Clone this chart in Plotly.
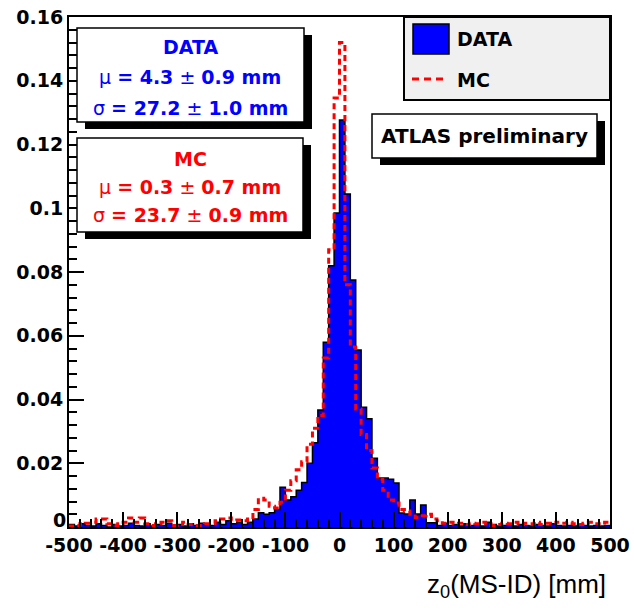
import plotly.graph_objects as go

# ---------------- data (bin left edges, 10 mm bins) ----------------
bin_left = list(range(-500, 500, 10))
x_max = 500

data_vals = [
    # -500 .. -410
    0.0008, 0.0003, 0.0010, 0.0005, 0.0003, 0.0010, 0.0005, 0.0000, 0.0008, 0.0003,
    # -400 .. -310
    0.0005, 0.0012, 0.0005, 0.0003, 0.0010, 0.0003, 0.0008, 0.0005, 0.0012, 0.0005,
    # -300 .. -210
    0.0008, 0.0003, 0.0010, 0.0005, 0.0012, 0.0008, 0.0005, 0.0015, 0.0008, 0.0020,
    # -200 .. -110
    0.0010, 0.0015, 0.0008, 0.0015, 0.0025, 0.0045, 0.0040, 0.0045, 0.0055, 0.0125,
    # -100 .. -10
    0.0085, 0.0095, 0.0115, 0.0140, 0.0200, 0.0264, 0.0367, 0.0580, 0.0820, 0.0985,
    # 0 .. 90
    0.1277, 0.1045, 0.0775, 0.0555, 0.0376, 0.0340, 0.0216, 0.0154, 0.0154, 0.0150,
    # 100 .. 190
    0.0138, 0.0044, 0.0041, 0.0085, 0.0041, 0.0069, 0.0013, 0.0013, 0.0005, 0.0012,
    # 200 .. 290
    0.0005, 0.0008, 0.0003, 0.0010, 0.0005, 0.0008, 0.0003, 0.0015, 0.0008, 0.0003,
    # 300 .. 390
    0.0005, 0.0010, 0.0003, 0.0008, 0.0005, 0.0003, 0.0008, 0.0005, 0.0003, 0.0010,
    # 400 .. 490
    0.0005, 0.0003, 0.0005, 0.0003, 0.0008, 0.0005, 0.0003, 0.0005, 0.0003, 0.0005,
]

mc_vals = [
    # -500 .. -410
    0.0003, 0.0005, 0.0010, 0.0012, 0.0015, 0.0025, 0.0025, 0.0010, 0.0005, 0.0010,
    # -400 .. -310
    0.0015, 0.0028, 0.0015, 0.0028, 0.0010, 0.0005, 0.0010, 0.0015, 0.0020, 0.0005,
    # -300 .. -210
    0.0008, 0.0015, 0.0008, 0.0005, 0.0005, 0.0010, 0.0010, 0.0020, 0.0025, 0.0028,
    # -200 .. -110
    0.0020, 0.0022, 0.0020, 0.0030, 0.0055, 0.0090, 0.0085, 0.0065, 0.0060, 0.0078,
    # -100 .. -10
    0.0115, 0.0145, 0.0180, 0.0205, 0.0260, 0.0310, 0.0350, 0.0530, 0.0870, 0.1346,
    # 0 .. 90
    0.1520, 0.0760, 0.0565, 0.0370, 0.0290, 0.0240, 0.0185, 0.0150, 0.0115, 0.0085,
    # 100 .. 190
    0.0075, 0.0055, 0.0050, 0.0040, 0.0030, 0.0035, 0.0040, 0.0025, 0.0020, 0.0012,
    # 200 .. 290
    0.0015, 0.0010, 0.0012, 0.0008, 0.0012, 0.0010, 0.0015, 0.0010, 0.0005, 0.0008,
    # 300 .. 390
    0.0012, 0.0010, 0.0015, 0.0008, 0.0012, 0.0010, 0.0015, 0.0008, 0.0012, 0.0010,
    # 400 .. 490
    0.0015, 0.0012, 0.0015, 0.0010, 0.0008, 0.0012, 0.0015, 0.0010, 0.0008, 0.0015,
]

x_ticks = list(range(-500, 501, 100))
x_tick_labels = [str(v) for v in x_ticks]
y_ticks = [0, 0.02, 0.04, 0.06, 0.08, 0.1, 0.12, 0.14, 0.16]
# the "0" label is drawn slightly raised (as in the original) by an annotation below
y_tick_labels = ["", "0.02", "0.04", "0.06", "0.08", "0.1", "0.12", "0.14", "0.16"]

assert len(data_vals) == len(bin_left) == len(mc_vals)

# ---------------- figure geometry ----------------
W, H = 634, 610
L, R, T, B = 69, 24, 17, 83
PW, PH = W - L - R, H - T - B
BLUE = "#0000ff"
RED = "#ff0000"
FONT = "DejaVu Sans"


def px(xp):
    return (xp - L) / PW


def py(yp):
    return (T + PH - yp) / PH


def step_xy(vals, close=True):
    xs = [bin_left[0]] + bin_left + [x_max]
    ys = [0] + list(vals) + [vals[-1]]
    if close:
        xs = xs + [x_max]
        ys = ys + [0]
    return xs, ys


fig = go.Figure()

dx, dy = step_xy(data_vals)
fig.add_trace(go.Scatter(
    x=dx, y=dy, mode="lines", name="DATA",
    line=dict(color="black", width=1.5, shape="hv"),
    fill="tozeroy", fillcolor=BLUE, showlegend=False,
))

mx, my = step_xy(mc_vals, close=False)
fig.add_trace(go.Scatter(
    x=mx, y=my, mode="lines", name="MC",
    line=dict(color=RED, width=3, shape="hv", dash="6px,4px"),
    showlegend=False,
))

shapes = []
annotations = []


def box(x0, y0, x1, y1, fill="white", shadow=True, lw=1.5):
    if shadow:
        shapes.append(dict(type="rect", xref="paper", yref="paper", layer="above",
                           x0=px(x0 + 8), x1=px(x1 + 8), y0=py(y0 + 7), y1=py(y1 + 7),
                           fillcolor="black", line=dict(width=0)))
    shapes.append(dict(type="rect", xref="paper", yref="paper", layer="above",
                       x0=px(x0), x1=px(x1), y0=py(y0), y1=py(y1),
                       fillcolor=fill, line=dict(color="black", width=lw)))


def text(s, xp, yp, color="black", size=19, anchor="center", weight="normal", family=FONT):
    annotations.append(dict(text=s, xref="paper", yref="paper", x=px(xp), y=py(yp),
                            xanchor=anchor, yanchor="middle", showarrow=False,
                            font=dict(family=family, size=size, color=color, weight=weight)))


# DATA stat box
box(77, 28, 304, 122)
text("<b>DATA</b>", 190, 47, BLUE)
text("μ <b>= 4.3</b> ± <b>0.9 mm</b>", 190, 77, BLUE)
text("σ <b>= 27.2</b> ± <b>1.0 mm</b>", 190, 108, BLUE)

# MC stat box
box(77, 138, 303, 232)
text("<b>MC</b>", 190, 159, RED)
text("μ <b>= 0.3</b> ± <b>0.7 mm</b>", 190, 187, RED)
text("σ <b>= 23.7</b> ± <b>0.9 mm</b>", 190, 215, RED)

# Legend box
box(404, 17, 610, 100, fill="#f0f0f0", shadow=False, lw=2)
shapes.append(dict(type="rect", xref="paper", yref="paper", layer="above",
                   x0=px(413), x1=px(449), y0=py(24), y1=py(54),
                   fillcolor=BLUE, line=dict(color="black", width=1.5)))
shapes.append(dict(type="line", xref="paper", yref="paper", layer="above",
                   x0=px(412), x1=px(443), y0=py(79), y1=py(79),
                   line=dict(color=RED, width=3, dash="7px,5px")))
text("<b>DATA</b>", 455, 39, anchor="left")
text("<b>MC</b>", 455, 80, anchor="left")

# ATLAS preliminary
box(372, 114, 597, 158)
text("<b>ATLAS preliminary</b>", 484, 136, size=20)

# raised "0" label of the y axis
text("<b>0</b>", 68, 520, anchor="right")

# x-axis title
annotations.append(dict(text="z<sub>0</sub>(MS-ID) [mm]", xref="paper", yref="paper",
                        x=px(608), y=py(585), xanchor="right", yanchor="middle",
                        showarrow=False,
                        font=dict(family="Liberation Sans", size=26, color="black")))

fig.update_layout(
    width=W, height=H,
    margin=dict(l=L, r=R, t=T, b=B, pad=0, autoexpand=False),
    paper_bgcolor="white", plot_bgcolor="white",
    shapes=shapes, annotations=annotations,
    showlegend=False,
)

fig.update_xaxes(
    range=[-500, 500], tickvals=x_ticks, ticktext=x_tick_labels, automargin=False,
    showgrid=False, zeroline=False,
    showline=True, linecolor="black", linewidth=2, mirror=True,
    ticks="inside", ticklen=15, tickwidth=1.5, tickcolor="black",
    minor=dict(ticks="inside", dtick=20, ticklen=8, tickwidth=1.5, tickcolor="black"),
    tickfont=dict(family=FONT, size=19, color="black", weight="bold"),
)
fig.update_yaxes(
    range=[0, 0.16], tickvals=y_ticks, ticktext=y_tick_labels, automargin=False,
    showgrid=False, zeroline=False,
    showline=True, linecolor="black", linewidth=2, mirror=True,
    ticks="inside", ticklen=15, tickwidth=1.5, tickcolor="black",
    minor=dict(ticks="inside", dtick=0.004, ticklen=8, tickwidth=1.5, tickcolor="black"),
    tickfont=dict(family=FONT, size=19, color="black", weight="bold"),
)

fig.write_html("out.html")
